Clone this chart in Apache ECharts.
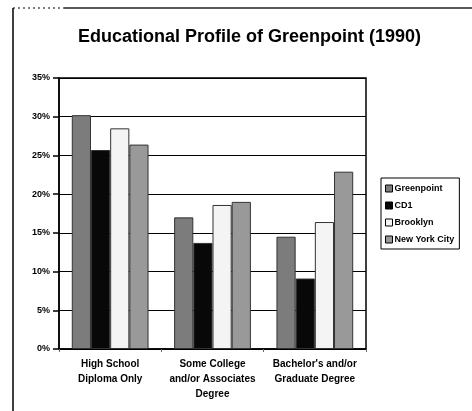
<!DOCTYPE html>
<html>
<head>
<meta charset="utf-8">
<script src="https://cdn.jsdelivr.net/npm/echarts@6/dist/echarts.min.js"></script>
<style>
  html, body { margin: 0; padding: 0; background: #fff; }
  #chart { width: 472px; height: 411px; }
</style>
</head>
<body>
<div id="chart"></div>
<script>
// values (percent)
const categories = ['High School\nDiploma Only', 'Some College\nand/or Associates\nDegree', "Bachelor's and/or\nGraduate Degree"];
const greenpoint = [30.2, 17.0, 14.5];
const cd1 = [25.7, 13.7, 9.1];
const brooklyn = [28.5, 18.6, 16.4];
const newYorkCity = [26.4, 19.0, 22.9];
const yTickLabels = ['0%', '5%', '10%', '15%', '20%', '25%', '30%', '35%'];

const font = 'Liberation Sans, Arial, sans-serif';
const chart = echarts.init(document.getElementById('chart'));

function bar(name, data, color) {
  return {
    name: name,
    type: 'bar',
    data: data,
    barGap: '0%',
    barCategoryGap: '25%',
    itemStyle: { color: color, borderColor: '#333', borderWidth: 1 }
  };
}

chart.setOption({
  animation: false,
  title: {
    text: 'Educational Profile of Greenpoint (1990)',
    left: 73,
    top: 23,
    textStyle: { fontFamily: font, fontSize: 18, fontWeight: 'bold', color: '#000' }
  },
  legend: {
    orient: 'vertical',
    left: 381,
    top: 178,
    padding: [6, 5, 5, 4],
    itemWidth: 7,
    itemHeight: 7,
    itemGap: 8,
    borderColor: '#000',
    borderWidth: 1,
    icon: 'rect',
    itemStyle: { borderColor: '#000', borderWidth: 1 },
    textStyle: { fontFamily: font, fontSize: 9, fontWeight: 'bold', color: '#000', padding: [0, 0, 0, -3] },
    data: ['Greenpoint', 'CD1', 'Brooklyn', 'New York City']
  },
  grid: { left: 59, right: 106, top: 78, bottom: 62 },
  xAxis: {
    type: 'category',
    data: categories,
    axisLine: { lineStyle: { color: '#000', width: 1.5 } },
    axisTick: { show: true, alignWithLabel: false, length: 3, lineStyle: { color: '#666' } },
    axisLabel: { interval: 0, fontFamily: font, fontSize: 10, fontWeight: 'bold', color: '#000', lineHeight: 15, margin: 8 }
  },
  yAxis: {
    type: 'value',
    min: 0,
    max: 35,
    interval: 5,
    axisLine: { show: true, lineStyle: { color: '#000', width: 1.5 } },
    axisTick: { show: true, length: 6, lineStyle: { color: '#000', width: 1.5 } },
    axisLabel: {
      fontFamily: font, fontSize: 9, fontWeight: 'bold', color: '#000', margin: 9,
      formatter: v => yTickLabels[Math.round(v / 5)]
    },
    splitLine: { lineStyle: { color: '#000', width: 1.2 } }
  },
  graphic: [
    { type: 'rect', shape: { x: 59, y: 78, width: 307, height: 271 }, style: { fill: 'none', stroke: '#000', lineWidth: 1.5 }, z: 0 },
    { type: 'line', shape: { x1: 13, y1: 8, x2: 13, y2: 411 }, style: { stroke: '#000', lineWidth: 1.5 } },
    { type: 'line', shape: { x1: 13, y1: 8, x2: 64, y2: 8 }, style: { stroke: '#000', lineWidth: 1, lineDash: [2, 3] } },
    { type: 'line', shape: { x1: 64, y1: 8, x2: 472, y2: 8 }, style: { stroke: '#222', lineWidth: 1.5 } }
  ],
  series: [
    bar('Greenpoint', greenpoint, '#7c7c7c'),
    bar('CD1', cd1, '#080808'),
    bar('Brooklyn', brooklyn, '#f4f4f4'),
    bar('New York City', newYorkCity, '#999999')
  ]
});
</script>
</body>
</html>
